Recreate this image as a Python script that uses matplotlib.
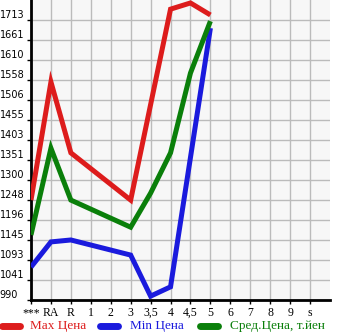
import numpy as np
import matplotlib
matplotlib.use("Agg")
import matplotlib.pyplot as plt
from matplotlib.lines import Line2D

categories = ["***", "RA", "R", "1", "2", "3", "3,5", "4", "4,5", "5", "6", "7", "8", "9", "s"]
y_ticks = [990, 1041, 1093, 1145, 1196, 1248, 1300, 1351, 1403, 1455, 1506, 1558, 1610, 1661, 1713]

nan = np.nan
max_price = [1248, 1553, 1370, nan, nan, 1248, nan, 1741, 1757, 1726, nan, nan, nan, nan, nan]
min_price = [1075, 1140, 1145, nan, nan, 1106, 1000, 1024, nan, 1692, nan, nan, nan, nan, nan]
avg_price = [1158, 1382, 1248, nan, nan, 1178, 1266, 1370, 1576, 1710, nan, nan, nan, nan, nan]

series = [
    (max_price, "#dd1c1c", "Max Цена"),
    (min_price, "#1a1add", "Min Цена"),
    (avg_price, "#0a7f0a", "Сред.Цена, т.йен"),
]

W, H = 345, 335
fig = plt.figure(figsize=(W / 100, H / 100), dpi=100)
ax = fig.add_axes([31 / W, (H - 300) / H, 299 / W, 300 / H])
ax.set_facecolor("#f7f7f7")

x = np.arange(len(categories))
for vals, col, lab in series:
    v = np.array(vals, dtype=float)
    m = ~np.isnan(v)
    ax.plot(x[m], v[m], color=col, lw=3.6, solid_joinstyle="miter", solid_capstyle="butt", zorder=3)

step = (1713 - 990) / 14
ax.set_xlim(0, 15)
ax.set_ylim(990, 990 + 15 * step)

ax.set_xticks(x)
ax.set_xticklabels(categories, fontfamily="Liberation Serif", fontsize=8.5)
ax.set_yticks(y_ticks)
ax.set_yticklabels([str(t) for t in y_ticks], fontfamily="DejaVu Sans", fontsize=7, ha="left")
for lbl in ax.get_yticklabels():
    lbl.set_va("bottom")
ax.tick_params(axis="y", length=3, width=1, pad=19.5, direction="out")
ax.tick_params(axis="x", length=3, width=1, pad=2, direction="out")

ax.grid(True, color="#bbbbbb", lw=1)
ax.set_axisbelow(True)
for s in ["top", "right"]:
    ax.spines[s].set_visible(False)
for s in ["left", "bottom"]:
    ax.spines[s].set_linewidth(2)
    ax.spines[s].set_color("black")

# legend
ly = 1 - 326 / H
items = [(0, 30), (98, 130), (198, 230)]
for (lx, tx), (vals, col, lab) in zip(items, series):
    fig.add_artist(Line2D([(lx + 2) / W, (lx + 20) / W], [ly, ly], color=col, lw=5,
                          solid_capstyle="round", transform=fig.transFigure))
    fig.text(tx / W, ly, lab, color=col, fontsize=9.5, fontfamily="Liberation Serif",
             va="center", ha="left")

fig.savefig("out.png", dpi=100)
